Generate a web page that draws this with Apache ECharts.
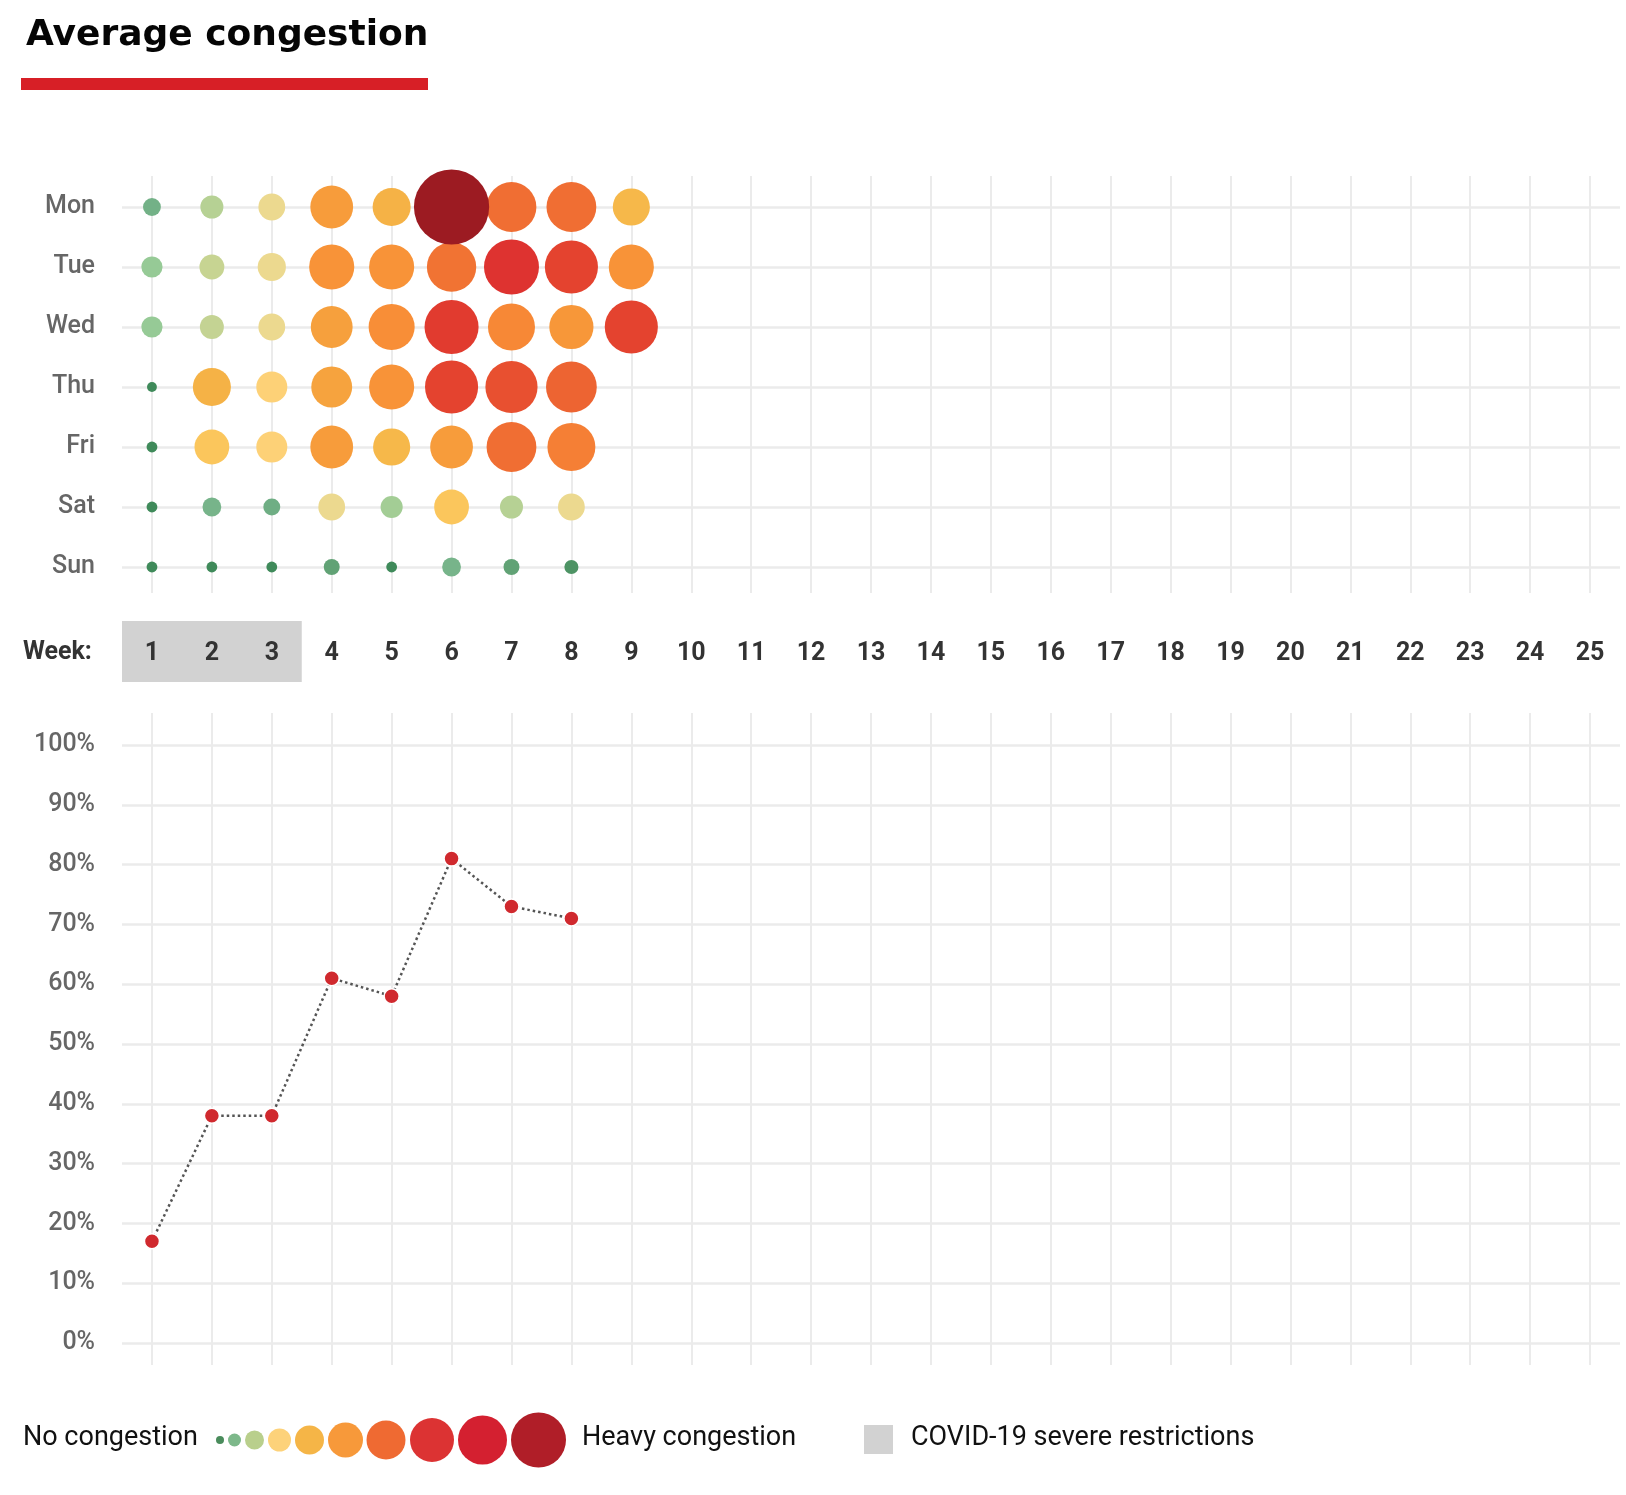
<!DOCTYPE html>
<html>
<head>
<meta charset="utf-8">
<script src="https://cdn.jsdelivr.net/npm/echarts@6/dist/echarts.min.js"></script>
<style>
html,body{margin:0;padding:0;background:#fff;}
#chart{width:1626px;height:1495px;}
</style>
</head>
<body>
<div id="chart"></div>
<script>
// ---------- DATA ----------
const titleText = 'Average congestion';
const days = ['Mon', 'Tue', 'Wed', 'Thu', 'Fri', 'Sat', 'Sun'];
const weekLabels = ['1','2','3','4','5','6','7','8','9','10','11','12','13','14','15','16','17','18','19','20','21','22','23','24','25'];
// congestion level (%) per day, weeks 1..
const monValues = [21, 32, 40, 74, 64, 143, 89, 89, 62];
const tueValues = [28, 36, 43, 79, 79, 88, 100, 96, 79];
const wedValues = [28, 34, 40, 72, 81, 98, 83, 77, 96];
const thuValues = [4, 64, 49, 70, 79, 96, 94, 91];
const friValues = [6, 57, 49, 74, 62, 74, 89, 85];
const satValues = [6, 23, 19, 40, 30, 57, 32, 40];
const sunValues = [6, 6, 6, 17, 6, 23, 17, 13];
// weekly average congestion (%)
const weeklyAverage = [17, 38, 38, 61, 58, 81, 73, 71];
// weeks with COVID-19 severe restrictions
const covidWeeks = [1, 2, 3];
const percentTicks = [0, 10, 20, 30, 40, 50, 60, 70, 80, 90, 100];

// ---------- STYLE HELPERS ----------
const FONT = 'Roboto';
const GRID_COLOR = '#ebebeb';
const colorStops = [
  [0, '#3f8a5a'], [10, '#3f8a5a'], [16, '#5a9c6e'], [19, '#6fae84'], [23, '#77b48a'], [27, '#8fc896'],
  [31, '#a9ce95'], [33, '#c2d393'], [37, '#c8d492'], [40, '#ecd98f'], [44, '#ecd98f'], [48, '#fdd27a'],
  [56, '#fcc95f'], [63, '#f5b547'], [70, '#f6a33e'], [76, '#f7993a'], [82, '#f88c36'],
  [90, '#ef6a32'], [96, '#e4432f'], [101, '#dc2f30'], [115, '#d42030'], [143, '#9c1b22']
];
function hexToRgb(h) { return [parseInt(h.slice(1,3),16), parseInt(h.slice(3,5),16), parseInt(h.slice(5,7),16)]; }
function colorFor(v) {
  if (v <= colorStops[0][0]) return colorStops[0][1];
  for (let i = 1; i < colorStops.length; i++) {
    if (v <= colorStops[i][0]) {
      const [v0, c0] = colorStops[i-1], [v1, c1] = colorStops[i];
      const t = (v - v0) / (v1 - v0);
      const a = hexToRgb(c0), b = hexToRgb(c1);
      return 'rgb(' + a.map((x, k) => Math.round(x + (b[k] - x) * t)).join(',') + ')';
    }
  }
  return colorStops[colorStops.length - 1][1];
}
function sizeFor(v) { return 8 + 0.47 * v; }

// ---------- BUILD SERIES DATA ----------
const rows = [monValues, tueValues, wedValues, thuValues, friValues, satValues, sunValues];
const bubbleData = [];
rows.forEach((arr, d) => arr.forEach((v, w) => bubbleData.push([w + 1, d, v])));
bubbleData.sort((a, b) => a[2] - b[2]);
const lineData = weeklyAverage.map((v, i) => [i + 1, v]);

const hiddenAxis = (grid, min, max) => ({ gridIndex: grid, type: 'value', min, max, show: false });

const chart = echarts.init(document.getElementById('chart'), null, { renderer: 'canvas' });

// legend dots (style only)
const legendDots = [
  [220, 8, '#4a8c5c'], [234.5, 13, '#7db88a'], [254.5, 19, '#b9cf8c'], [279.5, 23, '#fdd27a'],
  [309.5, 29, '#f5b547'], [345.5, 35, '#f7993a'], [386, 39, '#ef6a32'], [432, 44, '#dc3333'],
  [482.5, 49, '#d42030'], [538.5, 55, '#b01e28']
];
const LEG_Y = 1440;
const graphics = [
  { type: 'rect', shape: { x: 21, y: 78, width: 407, height: 12 }, style: { fill: '#d71f26' } },
  { type: 'text', x: 23, y: 653, style: { text: 'Week:', font: 'bold 25px ' + FONT, fill: '#333', verticalAlign: 'middle' } },
  { type: 'text', x: 23, y: LEG_Y - 2, style: { text: 'No congestion', font: '400 27px ' + FONT, fill: '#111', verticalAlign: 'middle' } },
  { type: 'text', x: 582, y: LEG_Y - 2, style: { text: 'Heavy congestion', font: '400 27px ' + FONT, fill: '#111', verticalAlign: 'middle' } },
  { type: 'rect', shape: { x: 864, y: 1425, width: 29, height: 29 }, style: { fill: '#d2d2d2' } },
  { type: 'text', x: 911, y: LEG_Y - 2, style: { text: 'COVID-19 severe restrictions', font: '400 27px ' + FONT, fill: '#111', verticalAlign: 'middle' } }
];
legendDots.forEach(([cx, d, c]) => graphics.push({ type: 'circle', shape: { cx, cy: LEG_Y, r: d / 2 }, style: { fill: c } }));

const option = {
  animation: false,
  backgroundColor: '#fff',
  title: {
    text: titleText, left: 21, top: 13,
    textStyle: { fontFamily: 'DejaVu Sans', fontWeight: 'bold', fontSize: 36, color: '#050505' }
  },
  graphic: graphics,
  grid: [
    { left: 152, width: 1438, top: 176, height: 417 },   // 0 upper vertical lines + week labels
    { left: 122, width: 1498, top: 207, height: 360 },   // 1 bubbles
    { left: 122, width: 1498, top: 621, height: 61 },    // 2 covid band
    { left: 152, width: 1438, top: 713, height: 652 },   // 3 lower vertical lines
    { left: 122, width: 1498, top: 745, height: 598 }    // 4 line chart
  ],
  xAxis: [
    { gridIndex: 0, type: 'value', min: 1, max: 25, interval: 1, z: 1,
      axisLine: { show: false }, axisTick: { show: false },
      splitLine: { show: true, lineStyle: { color: GRID_COLOR, width: 2 } },
      axisLabel: { margin: 48, color: '#333', fontFamily: FONT, fontWeight: 'bold', fontSize: 25,
        formatter: v => weekLabels[v - 1] || '' } },
    hiddenAxis(1, 0.5, 25.5),
    hiddenAxis(2, 0.5, 25.5),
    { gridIndex: 3, type: 'value', min: 1, max: 25, interval: 1,
      axisLine: { show: false }, axisTick: { show: false }, axisLabel: { show: false },
      splitLine: { show: true, lineStyle: { color: GRID_COLOR, width: 2 } } },
    hiddenAxis(4, 0.5, 25.5)
  ],
  yAxis: [
    hiddenAxis(0, 0, 1),
    { gridIndex: 1, type: 'value', min: 0, max: 6, interval: 1, inverse: true,
      axisLine: { show: false }, axisTick: { show: false },
      splitLine: { show: true, lineStyle: { color: GRID_COLOR, width: 2.5 } },
      axisLabel: { margin: 27, color: '#666', fontFamily: FONT, fontWeight: 500, fontSize: 25,
        formatter: v => days[v] || '' } },
    hiddenAxis(2, 0, 1),
    hiddenAxis(3, 0, 1),
    { gridIndex: 4, type: 'value', min: 0, max: 100, interval: 10,
      axisLine: { show: false }, axisTick: { show: false },
      splitLine: { show: true, lineStyle: { color: GRID_COLOR, width: 2.5 } },
      axisLabel: { margin: 27, color: '#666', fontFamily: FONT, fontWeight: 500, fontSize: 25,
        formatter: v => (percentTicks.indexOf(v) >= 0 ? v + '%' : '') } }
  ],
  series: [
    {
      type: 'scatter', xAxisIndex: 2, yAxisIndex: 2, data: [], silent: true, z: 0,
      markArea: {
        silent: true,
        itemStyle: { color: '#d2d2d2', opacity: 1 },
        data: [[{ xAxis: Math.min(...covidWeeks) - 0.5 }, { xAxis: Math.max(...covidWeeks) + 0.5 }]]
      }
    },
    {
      type: 'scatter', xAxisIndex: 1, yAxisIndex: 1, z: 3,
      data: bubbleData,
      symbol: 'circle',
      symbolSize: val => sizeFor(val[2]),
      itemStyle: { opacity: 1, color: p => colorFor(p.value[2]) }
    },
    {
      type: 'line', xAxisIndex: 4, yAxisIndex: 4, z: 3,
      data: lineData,
      symbol: 'circle', symbolSize: 15,
      lineStyle: { color: '#555', width: 2.5, type: [2.5, 3] },
      itemStyle: { color: '#d0292e', borderColor: '#fff', borderWidth: 1.5 }
    }
  ]
};
chart.setOption(option);
</script>
</body>
</html>
